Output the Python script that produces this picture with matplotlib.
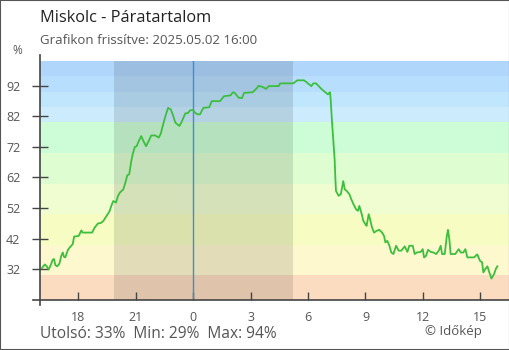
import matplotlib
matplotlib.use("Agg")
import matplotlib.pyplot as plt
from matplotlib.patches import Rectangle

plt.rcParams['font.family'] = ['Open Sans', 'DejaVu Sans']

# --------------------
# Data: relative humidity, Miskolc (hours counted from 16:00 the day before)
# --------------------
hours = [0.10, 0.25, 0.35, 0.45, 0.56, 0.66, 0.73, 0.80, 0.90, 1.01,
         1.11, 1.19, 1.25, 1.32, 1.46, 1.60, 1.71, 1.78, 2.02, 2.16,
         2.23, 2.72, 2.86, 3.03, 3.17, 3.31, 3.48, 3.62, 3.76, 3.83,
         3.97, 4.07, 4.18, 4.35, 4.46, 4.56, 4.66, 4.77, 4.84, 4.95,
         5.05, 5.16, 5.29, 5.40, 5.54, 5.68, 5.81, 6.02, 6.20, 6.31,
         6.41, 6.55, 6.69, 6.83, 6.93, 7.07, 7.28, 7.38, 7.49, 7.59,
         7.73, 7.84, 7.98, 8.11, 8.22, 8.36, 8.53, 8.84, 8.97, 9.40,
         9.61, 9.96, 10.07, 10.17, 10.38, 10.55, 10.66, 11.11, 11.32, 11.42,
         11.60, 11.81, 11.95, 12.47, 12.54, 13.23, 13.44, 13.79, 13.96, 14.17,
         14.28, 14.42, 14.56, 14.73, 14.90, 15.04, 15.11, 15.15, 15.19, 15.25,
         15.32, 15.39, 15.43, 15.46, 15.60, 15.71, 15.78, 15.84, 15.92, 16.02,
         16.16, 16.26, 16.37, 16.51, 16.61, 16.68, 16.78, 16.89, 16.99, 17.06,
         17.17, 17.24, 17.34, 17.45, 17.59, 17.72, 17.87, 17.97, 18.04, 18.14,
         18.25, 18.35, 18.46, 18.60, 18.74, 18.87, 19.05, 19.19, 19.29, 19.47,
         19.57, 19.68, 19.89, 19.99, 20.06, 20.16, 20.27, 20.41, 20.55, 20.69,
         20.83, 20.93, 21.00, 21.14, 21.25, 21.31, 21.38, 21.45, 21.69, 21.87,
         21.98, 22.11, 22.22, 22.32, 22.67, 22.84, 22.98, 23.09, 23.16, 23.26,
         23.37, 23.47, 23.58, 23.72, 23.82, 23.89]
humidity = [32.4, 33.6, 33.0, 31.9, 33.4, 35.1, 35.4, 33.4, 33.0, 33.8,
            36.4, 37.5, 36.1, 35.9, 38.4, 39.5, 40.2, 42.7, 42.9, 44.7,
            44.0, 44.0, 45.7, 47.0, 47.1, 47.8, 49.5, 50.8, 53.3, 54.3,
            53.8, 55.9, 57.1, 58.1, 60.3, 62.7, 63.0, 67.4, 69.5, 71.9,
            72.2, 73.9, 75.5, 73.9, 72.2, 73.9, 75.7, 75.7, 75.0, 76.3,
            78.8, 82.0, 84.7, 84.2, 82.6, 79.9, 78.8, 79.9, 81.5, 82.9,
            83.0, 83.9, 84.0, 83.1, 82.6, 82.6, 84.7, 84.9, 86.9, 86.9,
            88.5, 88.8, 89.8, 89.6, 88.0, 87.9, 89.6, 89.8, 91.1, 91.9,
            91.6, 90.9, 91.8, 91.8, 92.7, 92.7, 93.7, 93.7, 92.9, 91.8,
            92.7, 92.7, 91.8, 90.7, 89.8, 89.1, 89.6, 89.8, 86.9, 80.4,
            73.9, 67.9, 61.4, 57.6, 56.0, 56.5, 58.7, 60.8, 58.1, 57.6,
            56.5, 54.9, 53.3, 51.6, 51.1, 52.7, 50.6, 47.8, 46.8, 46.2,
            50.0, 48.4, 45.7, 44.0, 44.6, 44.9, 44.0, 42.9, 40.8, 41.3,
            39.7, 37.5, 37.0, 39.7, 38.1, 38.1, 39.5, 37.7, 39.7, 39.7,
            37.0, 37.5, 37.7, 38.6, 35.9, 36.4, 38.4, 37.7, 37.5, 37.0,
            38.1, 39.7, 37.0, 37.0, 42.9, 44.9, 41.9, 37.0, 37.0, 38.6,
            37.5, 37.5, 38.6, 35.9, 35.9, 36.9, 34.8, 34.3, 31.0, 32.1,
            33.0, 31.0, 29.0, 30.5, 32.3, 33.0]

tick_pos = [2, 5, 8, 11, 14, 17, 20, 23]
tick_labels = ['18', '21', '0', '3', '6', '9', '12', '15']
y_ticks = [32, 42, 52, 62, 72, 82, 92]

# humidity bands behind the curve
band_edges = [22, 30, 40, 50, 60, 70, 80, 85, 90, 95, 100]
band_colors = ['#fbdcc0', '#fef8cf', '#f7fdc2', '#effdd0', '#defdd0',
               '#ccfdd6', '#ccecfe', '#c0e6fe', '#b8defd', '#b0d6fc']

night_start, night_end = 3.87, 13.22
midnight = 8.0

last_val, min_val, max_val = 33, 29, 94

# --------------------
# Plot
# --------------------
fig = plt.figure(figsize=(5.1, 3.5), dpi=100)
ax = fig.add_axes([40 / 510, 50 / 350, 470 / 510, 239 / 350])

for lo, hi, c in zip(band_edges[:-1], band_edges[1:], band_colors):
    ax.axhspan(lo, hi, color=c, lw=0, zorder=0)

ax.axvspan(night_start, night_end, color='black', alpha=0.11, lw=0, zorder=1)
ax.axvline(midnight, color='#3a8fd6', lw=1, zorder=2)

ax.plot(hours, humidity, color='#3cbf3c', lw=1.3, zorder=3)

ax.set_xlim(0, 24.55)
ax.set_ylim(22, 100)

ax.set_xticks(tick_pos)
ax.set_xticklabels(tick_labels)
ax.set_yticks(y_ticks)
ax.tick_params(axis='x', direction='in', length=6, width=1, color='#444444',
               labelcolor='#555555', labelsize=9, pad=8)
ax.tick_params(axis='y', direction='inout', length=12, width=1, color='#444444',
               labelcolor='#555555', labelsize=9, pad=8)

for side in ['top', 'right', 'left', 'bottom']:
    ax.spines[side].set_visible(False)
# axis lines slightly overshoot the plot area
ax.plot([0, 0], [-0.02, 1.025], transform=ax.transAxes, color='#444444',
        lw=1.2, clip_on=False, zorder=5)
ax.plot([-0.015, 1], [0, 0], transform=ax.transAxes, color='#444444',
        lw=1.2, clip_on=False, zorder=5)

fig.text(40 / 510, 1 - 18 / 350, 'Miskolc - Páratartalom', fontsize=11.8,
         color='#222222', va='center', ha='left')
fig.text(40 / 510, 1 - 41 / 350, 'Grafikon frissítve: 2025.05.02 16:00',
         fontsize=9.5, color='#555555', va='center', ha='left')
fig.text(17 / 510, 1 - 50 / 350, '%', fontsize=8.5, color='#555555',
         va='center', ha='center')
fig.text(40 / 510, 1 - 334 / 350,
         f'Utolsó: {last_val}%  Min: {min_val}%  Max: {max_val}%',
         fontsize=11.2, color='#555555', va='center', ha='left')
fig.text(425 / 510, 1 - 332 / 350, '© Időkép', fontsize=9.5,
         color='#555555', va='center', ha='left')

# frame around the whole image
fig.patches.append(Rectangle((0, 0), 1, 1, transform=fig.transFigure,
                             fill=False, edgecolor='#555555', lw=1.5))

fig.savefig('out.png', dpi=100)
